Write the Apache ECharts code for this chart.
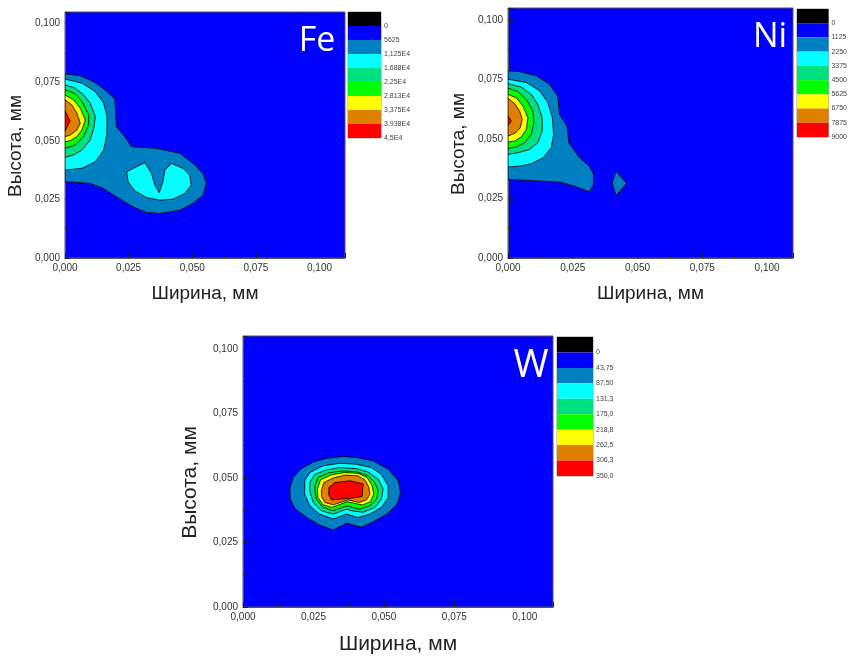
<!DOCTYPE html>
<html>
<head>
<meta charset="utf-8">
<script src="https://cdn.jsdelivr.net/npm/echarts@6/dist/echarts.min.js"></script>
<style>html,body{margin:0;padding:0;background:#fff;}#c{width:850px;height:656px;}</style>
</head>
<body>
<div id="c"></div>
<script>
// ---------- level colours (index 0 = black band above 0) ----------
const levelColors = ['#000000', '#0000FF', '#0080C0', '#00FFFF', '#00E080', '#00FF00', '#FFFF00', '#E08000', '#FF0000'];

// ---------- colour-bar labels ----------
const feBarLabels = ['0', '5625', '1,125E4', '1,688E4', '2,25E4', '2,813E4', '3,375E4', '3,938E4', '4,5E4'];
const niBarLabels = ['0', '1125', '2250', '3375', '4500', '5625', '6750', '7875', '9000'];
const wBarLabels  = ['0', '43,75', '87,50', '131,3', '175,0', '218,8', '262,5', '306,3', '350,0'];

// ---------- Fe contours (x mm, y mm) ----------
const feL2 = [[0,0.0786],[0.0059,0.0778],[0.0111,0.0753],[0.0157,0.0718],[0.0196,0.0678],[0.0202,0.0561],[0.0235,0.0518],[0.0261,0.0475],[0.0359,0.0468],[0.0451,0.0447],[0.0503,0.0404],[0.0542,0.0361],[0.0555,0.0318],[0.0542,0.0268],[0.0503,0.0233],[0.0451,0.0204],[0.0372,0.0190],[0.0320,0.0194],[0.0268,0.0218],[0.0202,0.0261],[0.0150,0.0297],[0.0098,0.0318],[0.0046,0.0323],[0,0.0325]];
const feL3a = [[0,0.0764],[0.0067,0.0746],[0.0119,0.0710],[0.0152,0.0661],[0.0165,0.0603],[0.0165,0.0532],[0.0152,0.0461],[0.0119,0.0411],[0.0067,0.0383],[0,0.0375]];
const feL3b = [[0.0242,0.0368],[0.0313,0.0407],[0.0340,0.0361],[0.0353,0.0311],[0.0370,0.0278],[0.0385,0.0325],[0.0392,0.0375],[0.0418,0.0404],[0.0464,0.0382],[0.0490,0.0354],[0.0496,0.0311],[0.0470,0.0275],[0.0424,0.0251],[0.0372,0.0247],[0.0320,0.0258],[0.0274,0.0287],[0.0248,0.0325]];
const feL4 = [[0,0.0739],[0.0040,0.0725],[0.0073,0.0696],[0.0099,0.0661],[0.0119,0.0603],[0.0113,0.0554],[0.0099,0.0504],[0.0067,0.0461],[0.0034,0.0440],[0,0.0430]];
const feL5 = [[0,0.0718],[0.0040,0.0701],[0.0067,0.0668],[0.0093,0.0611],[0.0093,0.0568],[0.0073,0.0518],[0.0040,0.0482],[0,0.0468]];
const feL6 = [[0,0.0696],[0.0034,0.0675],[0.0060,0.0639],[0.0080,0.0589],[0.0067,0.0547],[0.0047,0.0518],[0.0021,0.0501],[0,0.0496]];
const feL7 = [[0,0.0675],[0.0027,0.0654],[0.0047,0.0618],[0.0060,0.0575],[0.0047,0.0547],[0.0021,0.0525],[0,0.0518]];
const feL8 = [[0,0.0628],[0.0020,0.0585],[0,0.0542]];

// ---------- Ni contours ----------
const niL2a = [[0,0.0786],[0.0045,0.0783],[0.0109,0.0765],[0.0160,0.0730],[0.0192,0.0680],[0.0199,0.0603],[0.0228,0.0554],[0.0235,0.0484],[0.0276,0.0421],[0.0314,0.0386],[0.0330,0.0351],[0.0330,0.0309],[0.0314,0.0278],[0.0263,0.0299],[0.0205,0.0318],[0.0122,0.0323],[0,0.0330]];
const niL2b = [[0.0417,0.0365],[0.0402,0.0316],[0.0417,0.0262],[0.0458,0.0313]];
const niL3 = [[0,0.0751],[0.0071,0.0737],[0.0122,0.0702],[0.0154,0.0652],[0.0171,0.0589],[0.0176,0.0519],[0.0167,0.0463],[0.0135,0.0421],[0.0090,0.0396],[0.0045,0.0386],[0,0.0382]];
const niL4 = [[0,0.0732],[0.0051,0.0718],[0.0090,0.0687],[0.0115,0.0645],[0.0132,0.0589],[0.0132,0.0533],[0.0115,0.0484],[0.0083,0.0456],[0.0038,0.0442],[0,0.0435]];
const niL5 = [[0,0.0713],[0.0038,0.0699],[0.0071,0.0666],[0.0096,0.0617],[0.0100,0.0568],[0.0090,0.0519],[0.0064,0.0484],[0.0032,0.0466],[0,0.0460]];
const niL6 = [[0,0.0687],[0.0032,0.0673],[0.0058,0.0638],[0.0077,0.0589],[0.0071,0.0540],[0.0051,0.0508],[0.0026,0.0491],[0,0.0487]];
const niL7 = [[0,0.0671],[0.0026,0.0648],[0.0045,0.0617],[0.0055,0.0582],[0.0047,0.0547],[0.0030,0.0526],[0,0.0512]];
const niL8 = [[0,0.0596],[0.0013,0.0575],[0,0.0557]];

// ---------- W contours ----------
const wL2 = [[0.0166,0.0457],[0.0178,0.0502],[0.0207,0.0536],[0.0249,0.0562],[0.0296,0.0576],[0.0355,0.0583],[0.0403,0.0579],[0.0462,0.0566],[0.0515,0.0534],[0.0551,0.0489],[0.0559,0.0444],[0.0547,0.0399],[0.0511,0.0360],[0.0458,0.0328],[0.0420,0.0309],[0.0367,0.0325],[0.0320,0.0298],[0.0272,0.0318],[0.0225,0.0347],[0.0184,0.0382],[0.0168,0.0418]];
const wL3 = [[0.0219,0.0489],[0.0237,0.0521],[0.0284,0.0547],[0.0343,0.0557],[0.0403,0.0553],[0.0456,0.0540],[0.0491,0.0514],[0.0515,0.0469],[0.0515,0.0424],[0.0491,0.0386],[0.0450,0.0360],[0.0408,0.0347],[0.0367,0.0360],[0.0320,0.0341],[0.0272,0.0360],[0.0237,0.0392],[0.0219,0.0437]];
const wL4 = [[0.0237,0.0482],[0.0255,0.0514],[0.0296,0.0531],[0.0343,0.0540],[0.0403,0.0536],[0.0444,0.0523],[0.0480,0.0495],[0.0497,0.0457],[0.0491,0.0418],[0.0468,0.0386],[0.0426,0.0367],[0.0385,0.0373],[0.0367,0.0379],[0.0320,0.0360],[0.0278,0.0373],[0.0249,0.0405],[0.0237,0.0450]];
const wL5 = [[0.0255,0.0469],[0.0266,0.0502],[0.0308,0.0521],[0.0355,0.0527],[0.0408,0.0523],[0.0444,0.0508],[0.0468,0.0482],[0.0480,0.0450],[0.0474,0.0418],[0.0450,0.0392],[0.0414,0.0379],[0.0367,0.0392],[0.0320,0.0373],[0.0284,0.0386],[0.0260,0.0418],[0.0255,0.0457]];
const wL6 = [[0.0264,0.0457],[0.0275,0.0493],[0.0314,0.0512],[0.0361,0.0521],[0.0408,0.0518],[0.0440,0.0502],[0.0458,0.0472],[0.0464,0.0437],[0.0452,0.0408],[0.0424,0.0395],[0.0369,0.0408],[0.0317,0.0386],[0.0284,0.0396],[0.0266,0.0424]];
const wL7 = [[0.0278,0.0450],[0.0287,0.0482],[0.0320,0.0500],[0.0363,0.0511],[0.0408,0.0508],[0.0432,0.0493],[0.0446,0.0466],[0.0450,0.0437],[0.0438,0.0415],[0.0412,0.0405],[0.0373,0.0415],[0.0320,0.0396],[0.0290,0.0405],[0.0279,0.0428]];
const wL8 = [[0.0305,0.0463],[0.0326,0.0482],[0.0379,0.0489],[0.0426,0.0477],[0.0423,0.0428],[0.0379,0.0421],[0.0314,0.0415],[0.0304,0.0437]];

// ---------- axis ranges / ticks ----------
const xMax = 0.11, yMax = 0.105, tickStep = 0.025;
const xTitle = 'Ширина, мм', yTitle = 'Высота, мм';

const fePolys = [{l:2,p:feL2},{l:3,p:feL3a},{l:3,p:feL3b},{l:4,p:feL4},{l:5,p:feL5},{l:6,p:feL6},{l:7,p:feL7},{l:8,p:feL8}];
const niPolys = [{l:2,p:niL2a},{l:2,p:niL2b},{l:3,p:niL3},{l:4,p:niL4},{l:5,p:niL5},{l:6,p:niL6},{l:7,p:niL7},{l:8,p:niL8}];
const wPolys  = [{l:2,p:wL2},{l:3,p:wL3},{l:4,p:wL4},{l:5,p:wL5},{l:6,p:wL6},{l:7,p:wL7},{l:8,p:wL8}];

const panels = [
  {polys: fePolys, bar: feBarLabels, grid:{left:65, top:12, width:280, height:246}, barGrid:{left:348, top:12, width:33, height:126}, yGap:40, xGap:26, titleSize:19},
  {polys: niPolys, bar: niBarLabels, grid:{left:508, top:8, width:285, height:250}, barGrid:{left:797, top:9, width:33, height:128}, yGap:40, xGap:26, titleSize:19},
  {polys: wPolys,  bar: wBarLabels,  grid:{left:243, top:336, width:310, height:272}, barGrid:{left:557, top:337, width:36, height:139}, yGap:42, xGap:27, titleSize:21}
];

const fmt = v => (v > 0.1001 ? '' : v.toFixed(3).replace('.', ','));
const grids = [], xAxes = [], yAxes = [], series = [];

panels.forEach((pn, k) => {
  const gi = grids.length;
  grids.push(Object.assign({show:true, backgroundColor:'#0000FF', borderColor:'#555', borderWidth:1}, pn.grid));
  const tickCommon = {
    axisLine:{show:true, onZero:false, lineStyle:{color:'#555', width:1}},
    axisTick:{show:true, inside:true, length:5, lineStyle:{color:'#222', width:1}},
    minorTick:{show:true, splitNumber:2, length:3, lineStyle:{color:'#222', width:1}},
    splitLine:{show:false},
    axisLabel:{formatter:fmt, fontSize:10, color:'#333', fontFamily:'Liberation Sans, Arial', margin:5},
    nameLocation:'middle'
  };
  xAxes.push(Object.assign({type:'value', gridIndex:gi, min:0, max:xMax, interval:tickStep, name:xTitle, nameGap:pn.xGap,
    nameTextStyle:{fontSize:pn.titleSize, color:'#222', fontFamily:'Liberation Sans, Arial'}}, tickCommon));
  yAxes.push(Object.assign({type:'value', gridIndex:gi, min:0, max:yMax, interval:tickStep, name:yTitle, nameGap:pn.yGap,
    nameTextStyle:{fontSize:pn.titleSize, color:'#222', fontFamily:'Liberation Sans, Arial', padding:[0, 22, 0, 0]}}, tickCommon));
  const polys = pn.polys;
  series.push({
    type:'custom', xAxisIndex:gi, yAxisIndex:gi, silent:true, animation:false, clip:true,
    data: polys.map((q, i) => [q.p[0][0], q.p[0][1], i]),
    renderItem: (params, api) => {
      const q = polys[params.dataIndex];
      return {type:'polygon', shape:{points:q.p.map(pt => api.coord(pt))},
              style:{fill:levelColors[q.l], stroke:'#000', lineWidth:0.8}};
    }
  });
  // colour bar
  const bi = grids.length;
  grids.push(Object.assign({show:true, borderColor:'#999', borderWidth:1}, pn.barGrid));
  xAxes.push({type:'value', gridIndex:bi, min:0, max:1, show:false});
  const labels = pn.bar;
  yAxes.push({type:'value', gridIndex:bi, min:0, max:levelColors.length, interval:1, inverse:true, position:'right',
    axisLine:{show:false}, axisTick:{show:false}, splitLine:{show:false},
    axisLabel:{formatter: v => labels[v - 1] || '', fontSize:7, color:'#444', fontFamily:'Liberation Sans, Arial', margin:3}});
  series.push({
    type:'custom', xAxisIndex:bi, yAxisIndex:bi, silent:true, animation:false,
    data: levelColors.map((c, i) => [0.5, i + 0.5, i]),
    renderItem: (params, api) => {
      const i = params.dataIndex;
      const a = api.coord([0, i]), b = api.coord([1, i + 1]);
      return {type:'rect', shape:{x:a[0], y:Math.min(a[1], b[1]), width:b[0] - a[0], height:Math.abs(b[1] - a[1])},
              style:{fill:levelColors[i]}};
    }
  });
});

const chart = echarts.init(document.getElementById('c'), null, {renderer:'canvas'});
chart.setOption({
  animation:false,
  grid: grids, xAxis: xAxes, yAxis: yAxes, series: series,
  graphic: [
    {type:'text', x:317, y:41, z:100, style:{text:'Fe', fill:'#fff', font:'34px "Open Sans"', align:'center', verticalAlign:'middle'}},
    {type:'text', x:770, y:37, z:100, style:{text:'Ni', fill:'#fff', font:'34px "Open Sans"', align:'center', verticalAlign:'middle'}},
    {type:'text', x:531, y:366, z:100, style:{text:'W', fill:'#fff', font:'38px "Open Sans"', align:'center', verticalAlign:'middle'}}
  ]
});
</script>
</body>
</html>
